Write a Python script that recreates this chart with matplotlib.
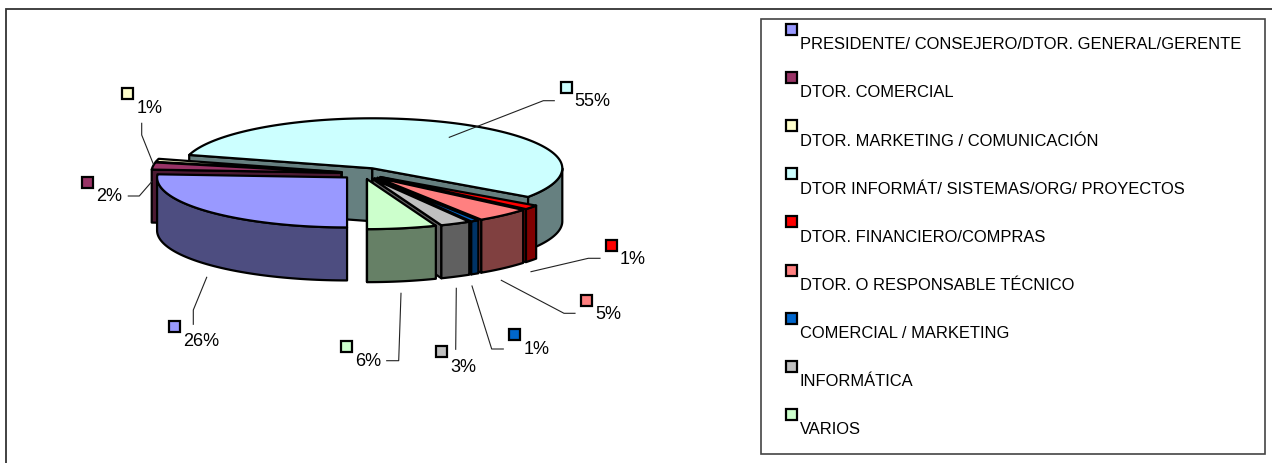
import numpy as np
import matplotlib
matplotlib.use("Agg")
import matplotlib.pyplot as plt
from matplotlib.patches import Polygon, Rectangle

categories = ["PRESIDENTE/ CONSEJERO/DTOR. GENERAL/GERENTE", "DTOR. COMERCIAL",
              "DTOR. MARKETING / COMUNICACIÓN", "DTOR INFORMÁT/ SISTEMAS/ORG/ PROYECTOS",
              "DTOR. FINANCIERO/COMPRAS", "DTOR. O RESPONSABLE TÉCNICO",
              "COMERCIAL / MARKETING", "INFORMÁTICA", "VARIOS"]
# the labels are these rounded
values = [26.0, 2.3, 1.0, 55.4, 1.4, 4.7, 0.7, 2.6, 5.9]

TOP_COLORS = ["#9999FF", "#993366", "#FFFFCC", "#CCFFFF", "#FF0000",
              "#FF8080", "#0066CC", "#C0C0C0", "#CCFFCC"]
SIDE_COLORS = ["#4D4D80", "#4D1A33", "#808066", "#668080", "#800000",
               "#804040", "#003366", "#606060", "#668066"]

# layout in pixels
CENTER_X, CENTER_Y = 363, 173.5
RX, RY = 190, 50
DEPTH = 53
EXPLODE = 0.115
START_ANGLE = 180
EDGE = 1.6

# swatch centre, label left/baseline, leader line for each slice
SWATCHES = [(174, 326.5), (87, 182), (127, 93), (566, 87.3), (611, 245),
            (586, 300), (514, 334), (441, 351), (346, 346)]
LABELS = [(183, 346), (96, 201), (137, 113), (574, 106), (620, 264),
          (595, 319), (524, 354), (450, 372), (355, 366)]
LEADERS = [[(206.7, 277.3), (193.3, 310), (193.3, 324.3)],
           [(128.3, 196), (139.3, 196), (151.7, 181.7)],
           [(141.7, 123.3), (141.7, 135), (153.3, 164)],
           [(449.3, 137.3), (543.3, 100.7), (554.3, 100.7)],
           [(531, 271.7), (588.3, 258.3), (600, 258.3)],
           [(501.3, 280.3), (564, 313.3), (575, 313.3)],
           [(472, 286), (491.7, 349), (503.3, 349)],
           [(456.3, 288.3), (455.7, 349.3)],
           [(401, 293.3), (398.7, 360.7), (386.7, 360.7)]]


def ellipse_xy(angles, cx, cy):
    # angles in degrees, clockwise from the top of the pie
    rad = np.radians(angles)
    return cx + RX * np.sin(rad), cy - RY * np.cos(rad)


def draw_quad(ax, pts, color):
    ax.add_patch(Polygon(pts, closed=True, facecolor=color, edgecolor="black",
                         linewidth=EDGE, joinstyle="round"))


def draw_slice(ax, a, b, top, side):
    mid = np.radians((a + b) / 2)
    cx = CENTER_X + EXPLODE * RX * np.sin(mid)
    cy = CENTER_Y - EXPLODE * RY * np.cos(mid)

    # flat cut faces, only those turned to the viewer
    for ang, visible in ((a, np.sin(np.radians(a)) < 0), (b, np.sin(np.radians(b)) > 0)):
        if visible:
            ex, ey = ellipse_xy(ang, cx, cy)
            draw_quad(ax, [(cx, cy), (ex, ey), (ex, ey + DEPTH), (cx, cy + DEPTH)], side)

    # curved outer wall, front half only
    lo, hi = max(a, 90), min(b, 270)
    if lo < hi:
        ang = np.linspace(lo, hi, 60)
        ex, ey = ellipse_xy(ang, cx, cy)
        pts = list(zip(ex, ey)) + list(zip(ex[::-1], ey[::-1] + DEPTH))
        draw_quad(ax, pts, side)

    ang = np.linspace(a, b, 120)
    ex, ey = ellipse_xy(ang, cx, cy)
    draw_quad(ax, [(cx, cy)] + list(zip(ex, ey)), top)


fig = plt.figure(figsize=(12.72, 4.63), dpi=100)
ax = fig.add_axes([0, 0, 1, 1])
ax.set_xlim(0, 1272)
ax.set_ylim(463, 0)
ax.axis("off")
plt.rcParams["font.family"] = ["Liberation Sans", "DejaVu Sans"]

# chart area is cut off at the right and bottom of the image
ax.plot([6, 6, 1272], [463, 8.5, 8.5], color="#333333", lw=1.3, solid_joinstyle="miter")

# slices, from the back of the pie to the front
sweep = np.array(values) / sum(values) * 360
starts = START_ANGLE + np.concatenate(([0], np.cumsum(sweep)[:-1]))
order = sorted(range(len(values)), key=lambda i: -np.cos(np.radians(starts[i] + sweep[i] / 2)))
for i in order:
    a = starts[i]
    b = a + sweep[i]
    if b > 360:
        # keep angles in one turn so the front test works for the big slice
        a, b = a - 360, b - 360
    draw_slice(ax, a, b, TOP_COLORS[i], SIDE_COLORS[i])


def swatch(x, y, color):
    ax.add_patch(Rectangle((x - 5.5, y - 5.5), 11, 11, facecolor=color, edgecolor="black",
                           linewidth=1.6, zorder=5))


for i, v in enumerate(values):
    xs, ys = zip(*LEADERS[i])
    ax.plot(xs, ys, color="#222222", lw=0.8, zorder=4)
    swatch(SWATCHES[i][0], SWATCHES[i][1], TOP_COLORS[i])
    ax.text(LABELS[i][0], LABELS[i][1], f"{v:.0f}%", fontsize=13, color="black",
            ha="left", va="baseline", zorder=5)

# legend
ax.add_patch(Rectangle((760.5, 19), 504, 435, facecolor="white", edgecolor="#444444",
                       linewidth=1.2, zorder=3))
for i, name in enumerate(categories):
    swatch(791, 29.5 + 48.1 * i, TOP_COLORS[i])
    ax.text(799.5, 49.3 + 48.1 * i, name, fontsize=11.85, color="black",
            ha="left", va="baseline", zorder=5)

fig.savefig("out.png", dpi=100)
